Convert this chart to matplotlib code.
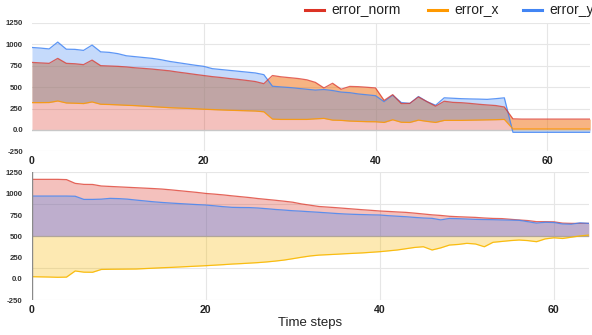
import numpy as np
import matplotlib
matplotlib.use('Agg')
import matplotlib.pyplot as plt
from matplotlib.lines import Line2D

plt.rcParams['font.family'] = ['Liberation Sans', 'DejaVu Sans']

series_names = ['error_norm', 'error_x', 'error_y']
colors = ['#dc3325', '#ff9900', '#4285f4']

# top panel, steps 0..65
top_norm = [788, 782, 777, 835, 777, 772, 762, 815, 750, 746, 742, 735, 725, 718, 710, 700,
            690, 675, 662, 648, 635, 622, 612, 600, 590, 578, 565, 540, 635, 620, 610, 600,
            585, 555, 490, 545, 475, 508, 505, 498, 490, 345, 412, 308, 310, 385, 330, 277,
            335, 322, 318, 310, 300, 292, 285, 268, 130, 127, 127, 127, 127, 127, 127, 127,
            127, 127]
top_x = [319, 319, 320, 338, 315, 312, 308, 327, 300, 297, 293, 288, 284, 278, 272, 266,
         260, 256, 252, 248, 242, 238, 234, 230, 227, 224, 221, 212, 127, 123, 123, 123,
         123, 130, 135, 115, 112, 104, 100, 97, 96, 88, 119, 90, 88, 115, 100, 88,
         112, 112, 112, 114, 116, 118, 120, 123, 12, 12, 12, 12, 12, 12, 12, 12,
         12, 12]
top_y = [962, 955, 945, 1025, 942, 940, 928, 990, 911, 905, 890, 865, 855, 845, 835, 820,
         800, 785, 770, 755, 742, 715, 705, 695, 685, 675, 665, 645, 510, 502, 495, 485,
         475, 465, 472, 460, 442, 435, 420, 410, 400, 330, 405, 320, 310, 390, 330, 288,
         375, 370, 365, 362, 360, 357, 365, 375, -27, -27, -27, -27, -27, -27, -27, -27,
         -27, -27]

# bottom panel, steps 0..64
bot_norm = [1168, 1168, 1168, 1168, 1165, 1121, 1109, 1108, 1090, 1085, 1080, 1075, 1070,
            1065, 1060, 1054, 1045, 1035, 1025, 1015, 1003, 995, 986, 975, 965, 955, 943,
            933, 923, 912, 900, 880, 865, 850, 843, 836, 828, 820, 812, 805, 797, 792, 786,
            781, 772, 762, 752, 745, 735, 730, 726, 722, 715, 710, 708, 700, 692, 685, 672,
            672, 670, 655, 652, 652, 652]
bot_x = [27, 25, 23, 20, 22, 94, 80, 79, 112, 114, 115, 116, 117, 122, 127, 132, 136, 141,
         146, 151, 156, 162, 168, 175, 180, 186, 192, 200, 210, 222, 238, 255, 270, 280,
         285, 290, 296, 301, 306, 313, 320, 330, 340, 355, 370, 378, 340, 365, 398, 405,
         418, 410, 378, 430, 440, 450, 457, 450, 437, 470, 483, 475, 490, 505, 515]
bot_y = [972, 972, 972, 972, 972, 970, 933, 933, 936, 945, 942, 936, 925, 915, 905, 897,
         890, 884, 878, 872, 867, 858, 848, 840, 838, 837, 832, 824, 815, 808, 800, 795,
         788, 782, 775, 768, 762, 758, 755, 752, 750, 742, 736, 730, 722, 715, 711, 693,
         710, 707, 703, 699, 697, 695, 692, 690, 688, 672, 655, 665, 662, 645, 642, 658, 652]

ytick_vals = [-250, 0, 250, 500, 750, 1000, 1250]
ytick_labels = ['-250', '0.0', '250', '500', '750', '1000', '1250']
xtick_vals = [0, 20, 40, 60]

fig = plt.figure(figsize=(5.92, 3.35), dpi=100)
ax1 = fig.add_axes([0.054, 0.548, 0.943, 0.384])
ax2 = fig.add_axes([0.0535, 0.1035, 0.941, 0.382])

grid_c = '#e6e6e6'
alpha = 0.3

# top panel
t = np.arange(len(top_norm))
tn, tx, ty = np.array(top_norm), np.array(top_x), np.array(top_y)
for v in [250, 500, 750, 1000, 1250, -250]:
    ax1.axhline(v, color=grid_c, lw=0.8, zorder=0)
for v in xtick_vals[1:]:
    ax1.axvline(v, color=grid_c, lw=0.8, zorder=0)
ax1.fill_between(t, 0, tn, color=colors[0], alpha=alpha, lw=0)
ax1.fill_between(t, tx, tn, color=colors[1], alpha=alpha, lw=0)
ax1.fill_between(t, tx, ty, color=colors[2], alpha=alpha, lw=0)
ax1.axhline(0, color='#c8c8c8', lw=1.0, zorder=1)
ax1.plot(t, ty, color=colors[2], lw=0.9, alpha=0.85)
ax1.plot(t, tn, color=colors[0], lw=0.9, alpha=0.75)
ax1.plot(t, tx, color=colors[1], lw=0.9, alpha=0.85)
ax1.set_xlim(0, 65)
ax1.set_ylim(-250, 1250)

# bottom panel
b = np.arange(len(bot_norm))
for v in [1250, 875, 125, -250]:
    ax2.axhline(v, color=grid_c, lw=0.8, zorder=0)
for v in xtick_vals[1:]:
    ax2.axvline(v, color=grid_c, lw=0.8, zorder=0)
ax2.fill_between(b, 500, bot_norm, color=colors[0], alpha=alpha, lw=0)
ax2.fill_between(b, 500, bot_y, color=colors[2], alpha=alpha, lw=0)
ax2.fill_between(b, 500, bot_x, color='#f9b800', alpha=alpha, lw=0)
ax2.axhline(500, color='#b0a59a', lw=0.9, zorder=1)
ax2.axvline(0, color='#8a8a8a', lw=1.0, zorder=3)
ax2.plot(b, bot_norm, color=colors[0], lw=0.9, alpha=0.75)
ax2.plot(b, bot_y, color=colors[2], lw=0.9, alpha=0.85)
ax2.plot(b, bot_x, color='#f9b800', lw=0.9, alpha=0.9)
ax2.set_xlim(0, 64)
ax2.set_ylim(-250, 1250)
ax2.set_xlabel('Time steps', fontsize=9.5, color='#222222', labelpad=1)

for ax in (ax1, ax2):
    for s in ax.spines.values():
        s.set_visible(False)
    ax.set_xticks(xtick_vals)
    ax.set_xticklabels([str(v) for v in xtick_vals], fontsize=7.6, fontweight='bold', color='#222222')
    ax.set_yticks(ytick_vals)
    ax.set_yticklabels(ytick_labels, fontsize=5.6, fontweight='bold', color='#333333')
    ax.tick_params(axis='both', length=0)
    ax.tick_params(axis='y', pad=6.5)
    ax.tick_params(axis='x', pad=3.5)

# legend across the top
leg_x = [305, 428, 523]
for name, c, x0 in zip(series_names, colors, leg_x):
    fig.add_artist(Line2D([x0 / 592, (x0 + 19) / 592], [1 - 10 / 335] * 2,
                          transform=fig.transFigure, color=c, lw=2.2))
    fig.text((x0 + 26) / 592, 1 - 10 / 335, name, fontsize=10, color='#222222',
             va='center', ha='left')

fig.savefig('out.png', dpi=100)
